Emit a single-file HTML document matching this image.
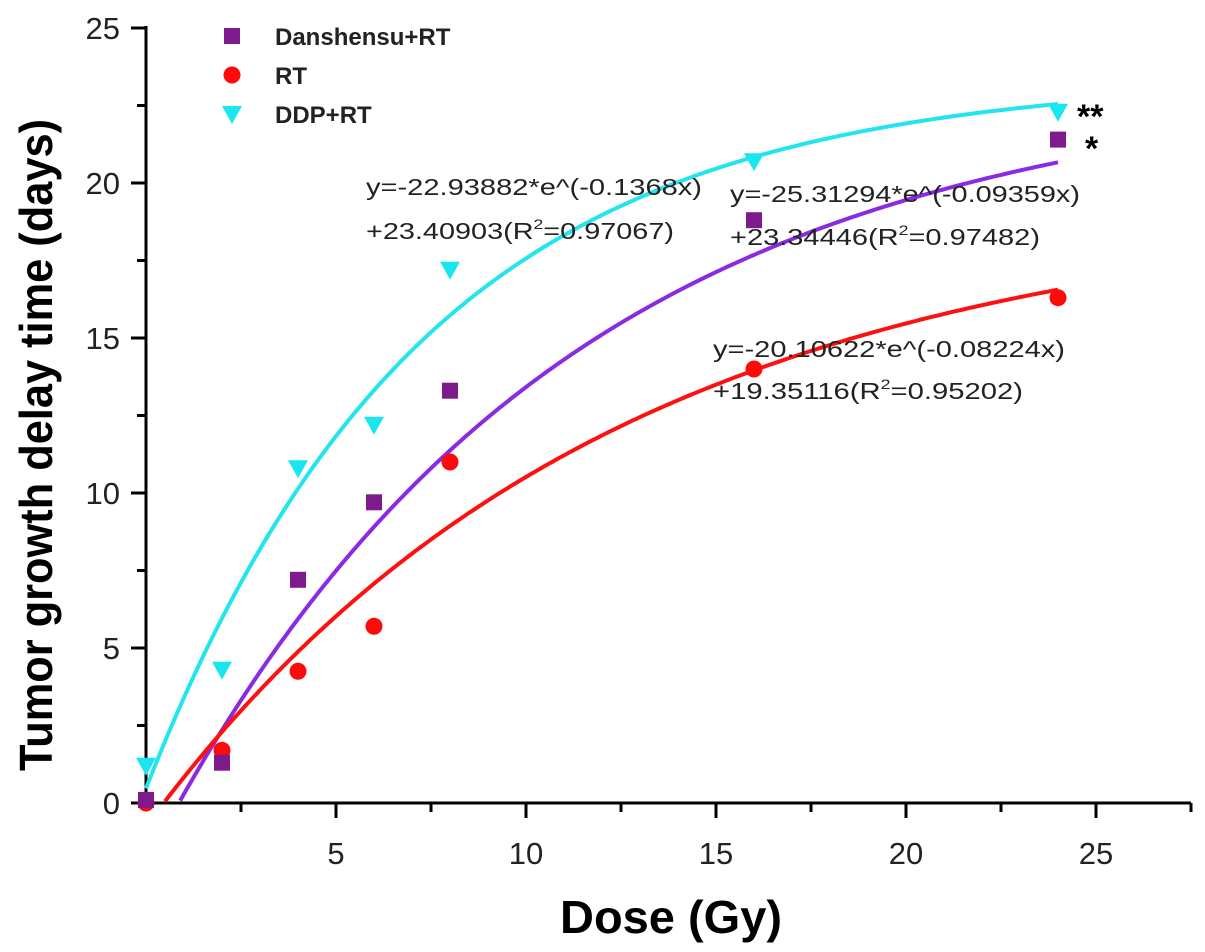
<!DOCTYPE html>
<html><head><meta charset="utf-8"><style>
body{margin:0;background:#fff}
svg{display:block;font-family:"Liberation Sans",Arial,sans-serif}
</style></head><body>
<svg id="chart" width="1205" height="952" viewBox="0 0 1205 952"></svg>
<script>
const doses = [0, 2, 4, 6, 8, 16, 24];
const danshensu = [0.1, 1.3, 7.2, 9.7, 13.3, 18.8, 21.4];
const rt = [0.0, 1.7, 4.25, 5.7, 11.0, 14.0, 16.3];
const ddp = [1.2, 4.3, 10.8, 12.2, 17.2, 20.7, 22.3];
const fitDanshensu = [-25.31294, -0.09359, 23.34446];
const fitRt = [-20.10622, -0.08224, 19.35116];
const fitDdp = [-22.93882, -0.1368, 23.40903];
const xTicks = [5, 10, 15, 20, 25];
const yTicks = [0, 5, 10, 15, 20, 25];

const NS = 'http://www.w3.org/2000/svg';
const svg = document.getElementById('chart');
const X0 = 146, XS = 38.0, Y0 = 803, YS = 31.0;
const xPix = v => X0 + v * XS;
const yPix = v => Y0 - v * YS;
function mk(tag, attrs, parent) {
  const e = document.createElementNS(NS, tag);
  for (const k in attrs) e.setAttribute(k, attrs[k]);
  (parent || svg).appendChild(e);
  return e;
}
const axes = mk('g', {});


let l = mk('line', {x1: 131, y1: Y0, x2: 1191, y2: Y0, stroke: '#000', 'stroke-width': 3}, axes);


l = mk('line', {x1: X0, y1: 26, x2: X0, y2: Y0, stroke: '#000', 'stroke-width': 3}, axes);


mk('line', {x1: 1191, y1: Y0, x2: 1191, y2: Y0 + 9, stroke: '#000', 'stroke-width': 3}, axes);
for (let v = 2.5; v <= 25; v += 2.5) {
  const major = Math.abs(v % 5) < 1e-6;
  mk('line', {x1: xPix(v), y1: Y0, x2: xPix(v), y2: Y0 + (major ? 15 : 9), stroke: '#000', 'stroke-width': 3}, axes);
}
for (let v = 2.5; v <= 25; v += 2.5) {
  const major = Math.abs(v % 5) < 1e-6;
  mk('line', {x1: X0, y1: yPix(v), x2: X0 - (major ? 15 : 9), y2: yPix(v), stroke: '#000', 'stroke-width': 3}, axes);
}
mk('line', {x1: X0 - 15, y1: Y0, x2: X0, y2: Y0, stroke: '#000', 'stroke-width': 3}, axes);
xTicks.forEach(v => {
  const t = mk('text', {x: xPix(v), y: 864, 'font-size': 31, 'text-anchor': 'middle', fill: '#222'});
  t.textContent = v;
  
  
});
yTicks.forEach(v => {
  const t = mk('text', {x: 120, y: yPix(v) + 11, 'font-size': 31, 'text-anchor': 'end', fill: '#222'});
  t.textContent = v;
  
  
});
function curve(fit, color, name) {
  const f = x => fit[0] * Math.exp(fit[1] * x) + fit[2];
  let d = '';
  for (let x = 0; x <= 24.0001; x += 0.1) {
    const y = f(x);
    if (y < 0) continue;
    d += (d ? 'L' : 'M') + xPix(x).toFixed(1) + ',' + yPix(y).toFixed(1);
  }
  const p = mk('path', {d: d, fill: 'none', stroke: color, 'stroke-width': 4});
  
  
}
curve(fitDdp, '#22e5ee', 'ddp-rt-fit-curve');
curve(fitDanshensu, '#8a2be2', 'danshensu-rt-fit-curve');
curve(fitRt, '#ff1010', 'rt-fit-curve');
function square(cx, cy, name) {
  const r = mk('rect', {x: cx - 8, y: cy - 8, width: 16, height: 16, fill: '#7d1a8c'});
  
  
}
function circle(cx, cy, name) {
  const c = mk('circle', {cx: cx, cy: cy, r: 8.5, fill: '#ff0a0a'});
  
  
}
function tri(cx, cy, name) {
  const p = mk('polygon', {points: `${cx-10},${cy-8} ${cx+10},${cy-8} ${cx},${cy+10}`, fill: '#1ae6f0'});
  
  
}
doses.forEach((d, i) => tri(xPix(d), yPix(ddp[i]), 'ddp-rt-point'));
doses.forEach((d, i) => circle(xPix(d), yPix(rt[i]), 'rt-point'));
doses.forEach((d, i) => square(xPix(d), yPix(danshensu[i]), 'danshensu-rt-point'));
square(232, 36, 'legend-danshensu-marker');
circle(232, 75, 'legend-rt-marker');
tri(232, 114, 'legend-ddp-marker');
[['Danshensu+RT', 45, 'legend-danshensu-label'], ['RT', 84, 'legend-rt-label'], ['DDP+RT', 123, 'legend-ddp-label']].forEach(a => {
  const t = mk('text', {x: 275, y: a[1], 'font-size': 24, 'font-weight': 'bold', fill: '#222'});
  t.textContent = a[0];
  
  
});
</script>
<script>
(function(){
const NS='http://www.w3.org/2000/svg', svg=document.getElementById('chart');
function txt(x,y,html,attrs,name){
  const t=document.createElementNS(NS,'text');
  t.setAttribute('x',x);t.setAttribute('y',y);
  for(const k in attrs)t.setAttribute(k,attrs[k]);
  t.innerHTML=html;
  
  
  svg.appendChild(t);
}
const eq={'font-size':23,'fill':'#222',lengthAdjust:'spacingAndGlyphs'};
txt(366,195,'y=-22.93882*e^(-0.1368x)',Object.assign({textLength:336},eq),'ddp-equation-line1');
txt(366,239,'+23.40903(R<tspan dy="-10" font-size="14">2</tspan><tspan dy="10">=0.97067)</tspan>',Object.assign({textLength:308},eq),'ddp-equation-line2');
txt(730,202,'y=-25.31294*e^(-0.09359x)',Object.assign({textLength:350},eq),'danshensu-equation-line1');
txt(730,245,'+23.34446(R<tspan dy="-10" font-size="14">2</tspan><tspan dy="10">=0.97482)</tspan>',Object.assign({textLength:310},eq),'danshensu-equation-line2');
txt(713,357,'y=-20.10622*e^(-0.08224x)',Object.assign({textLength:352},eq),'rt-equation-line1');
txt(713,399,'+19.35116(R<tspan dy="-10" font-size="14">2</tspan><tspan dy="10">=0.95202)</tspan>',Object.assign({textLength:310},eq),'rt-equation-line2');
txt(1077,128,'**',{'font-size':34,'font-weight':'bold'},'significance-ddp');
txt(1085,160,'*',{'font-size':34,'font-weight':'bold'},'significance-danshensu');
txt(560,933,'Dose (Gy)',{'font-size':46,'font-weight':'bold',textLength:222,lengthAdjust:'spacingAndGlyphs'},'x-axis-title');
txt(0,0,'Tumor growth delay time (days)',{'font-size':46,'font-weight':'bold',textLength:652,lengthAdjust:'spacingAndGlyphs','text-anchor':'middle',transform:'translate(52,445) rotate(-90)'},'y-axis-title');
})();
</script>
</body></html>
